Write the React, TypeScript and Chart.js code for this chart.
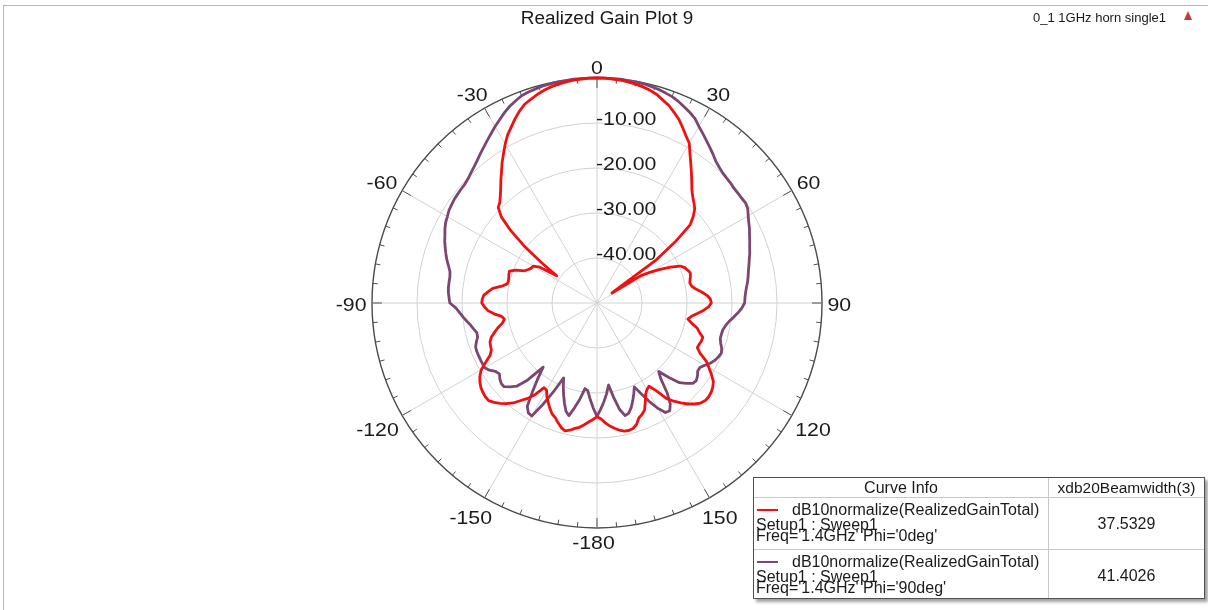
import React, { useEffect, useRef } from "react";
import { Chart, registerables } from "chart.js";

Chart.register(...registerables);

// Theta sweep in degrees (-180 .. 178, step 2)
const THETA_DEG: number[] = Array.from({ length: 180 }, (_, i) => -180 + 2 * i);

// Angle tick labels around the outer circle
const ANGLE_TICKS: number[] = [0, 30, 60, 90, 120, 150, -180, -150, -120, -90, -60, -30];
// Ring tick labels (dB)
const RING_TICKS: number[] = [-10, -20, -30, -40];
const R_MIN = -50;
const R_MAX = 0;

// Phi = 0deg, dB10normalize(RealizedGainTotal), theta -180..178
const RED_DB: number[] = [
  // -180 .. -2
  -24.7, -24.1, -23.5, -22.8, -22.1, -21.7, -21.1, -20.7, -21.2, -22.0,
  -22.9, -23.4, -24.3, -25.3, -26.3, -27.6, -27.8, -25.5, -23.8, -22.5,
  -21.0, -19.9, -19.0, -18.2, -17.6, -17.6, -17.8, -18.1, -18.6, -19.3,
  -20.3, -22.0, -23.6, -24.3, -24.5, -24.7, -25.3, -26.3, -27.3, -28.5,
  -29.1, -28.6, -27.0, -25.7, -25.0, -24.4, -24.5, -24.8, -25.7, -26.6,
  -28.5, -29.6, -29.7, -29.6, -29.4, -29.3, -30.5, -32.4, -33.0, -33.5,
  -33.6, -35.0, -39.2, -34.8, -29.5, -25.0, -21.4, -19.5, -18.9, -17.9,
  -16.7, -15.3, -13.9, -12.3, -10.8, -9.2, -7.7, -6.5, -5.2, -4.0,
  -3.0, -2.4, -1.8, -1.3, -0.9, -0.6, -0.4, -0.2, -0.1, 0,
  // 0 .. 178
  0, 0, -0.1, -0.2, -0.4, -0.6, -0.9, -1.3, -1.8, -2.6,
  -3.3, -4.3, -5.3, -6.6, -7.9, -9.0, -11.0, -12.7, -14.3, -15.8,
  -17.2, -18.2, -19.0, -19.8, -21.2, -23.0, -28.0, -34.0, -46.0, -38.5,
  -36.3, -34.1, -31.8, -29.8, -29.0, -28.6, -28.2, -28.4, -28.7, -28.9,
  -28.6, -27.8, -26.6, -25.5, -24.8, -24.6, -25.2, -26.3, -27.6, -28.8,
  -29.5, -28.5, -27.1, -26.3, -25.3, -25.3, -25.5, -25.6, -24.5, -22.5,
  -21.3, -20.0, -18.8, -18.2, -17.8, -17.6, -17.6, -18.0, -18.8, -19.8,
  -21.0, -22.3, -23.8, -26.5, -28.2, -27.8, -27.0, -25.5, -24.0, -23.3,
  -22.8, -21.6, -21.0, -20.8, -20.9, -21.3, -21.9, -22.5, -23.3, -24.2,
];

// Phi = 90deg, dB10normalize(RealizedGainTotal), theta -180..178
const PURPLE_DB: number[] = [
  // -180 .. -2
  -24.8, -26.6, -28.5, -30.4, -30.8, -28.4, -26.3, -24.2, -25.0, -26.6,
  -28.3, -30.0, -31.8, -28.3, -24.6, -21.0, -21.2, -22.3, -25.6, -28.6,
  -31.4, -27.0, -24.3, -23.2, -22.2, -22.2, -22.6, -23.2, -22.8, -21.8,
  -21.2, -21.2, -21.2, -21.2, -21.2, -21.3, -21.8, -22.4, -22.5, -22.0,
  -21.5, -20.8, -20.1, -19.4, -18.6, -17.3, -17.1, -16.9, -16.8, -16.8,
  -16.8, -16.6, -16.0, -15.3, -14.7, -14.1, -13.5, -13.0, -12.4, -11.9,
  -11.6, -11.2, -11.0, -10.8, -10.7, -10.6, -10.5, -10.2, -9.7, -9.2,
  -8.6, -7.9, -7.2, -6.4, -5.6, -4.7, -3.9, -3.0, -2.2, -1.6,
  -1.0, -0.7, -0.5, -0.3, -0.2, -0.1, -0.1, 0, 0, 0,
  // 0 .. 178
  0, 0, 0, 0, -0.1, -0.1, -0.2, -0.4, -0.6, -0.9,
  -1.2, -1.7, -2.3, -2.9, -3.6, -4.7, -5.6, -6.5, -7.3, -8.1,
  -8.9, -9.4, -9.8, -10.0, -10.1, -10.3, -10.3, -10.3, -10.2, -10.5,
  -11.2, -11.8, -12.3, -12.9, -13.4, -13.9, -14.3, -14.8, -15.2, -15.6,
  -15.9, -16.2, -16.6, -16.9, -17.1, -17.2, -17.8, -18.6, -19.5, -20.4,
  -21.0, -21.4, -21.5, -21.5, -21.1, -20.5, -20.2, -20.5, -20.9, -21.5,
  -22.3, -23.0, -23.0, -22.4, -22.0, -22.2, -23.3, -24.5, -27.0, -29.5,
  -27.9, -24.7, -22.3, -21.1, -21.3, -23.0, -25.2, -27.5, -29.6, -28.2,
  -26.8, -25.5, -24.5, -24.2, -25.8, -28.7, -31.6, -29.7, -28.0, -26.4,
];

const SERIES_LABELS = ["Phi='0deg'", "Phi='90deg'"];
const SERIES_COLORS = ["#f01010", "#7b4670"];
const BEAMWIDTHS = ["37.5329", "41.4026"];
const CURVE_EXPR = "dB10normalize(RealizedGainTotal)";
const CURVE_SETUP = "Setup1 : Sweep1";
const CURVE_FREQ = ["Freq='1.4GHz' Phi='0deg'", "Freq='1.4GHz' Phi='90deg'"];

const FONT = '"Liberation Sans", Arial, sans-serif';
const LABEL_STRETCH = 1.12;

function drawStretched(ctx: CanvasRenderingContext2D, text: string, x: number, y: number) {
  ctx.save();
  ctx.translate(x, y);
  ctx.scale(LABEL_STRETCH, 1);
  ctx.fillText(text, 0, 0);
  ctx.restore();
}

const polarDecor = {
  id: "polarDecor",
  beforeDatasetsDraw(chart: any) {
    const s = chart.scales.r;
    const cx = s.xCenter;
    const cy = s.yCenter;
    const R = s.drawingArea;
    const ctx = chart.ctx as CanvasRenderingContext2D;
    ctx.save();
    // outer circle ticks every 5 degrees
    ctx.strokeStyle = "#505050";
    ctx.lineWidth = 1;
    for (let a = 0; a < 360; a += 5) {
      const len = a % 30 === 0 ? 10 : 5;
      const rad = (a * Math.PI) / 180;
      const sn = Math.sin(rad);
      const cs = -Math.cos(rad);
      ctx.beginPath();
      ctx.moveTo(cx + R * sn, cy + R * cs);
      ctx.lineTo(cx + (R - len) * sn, cy + (R - len) * cs);
      ctx.stroke();
    }
    // ring labels
    ctx.fillStyle = "#1a1a1a";
    ctx.font = `19px ${FONT}`;
    ctx.textAlign = "left";
    ctx.textBaseline = "alphabetic";
    RING_TICKS.forEach((v) => {
      const d = s.getDistanceFromCenterForValue(v);
      drawStretched(ctx, v.toFixed(2), cx - 1, cy - d + 2);
    });
    // angle labels: unsigned part centred on the anchor, minus sign extends left
    ctx.textAlign = "left";
    ctx.textBaseline = "middle";
    ANGLE_TICKS.forEach((v) => {
      const t = String(v);
      const tu = String(Math.abs(v));
      const W = ctx.measureText(t).width * LABEL_STRETCH;
      const wu = ctx.measureText(tu).width * LABEL_STRETCH;
      const rad = (v * Math.PI) / 180;
      const sn = Math.sin(rad);
      const cs = Math.cos(rad);
      const d = R + 5.5 + (wu / 2) * Math.abs(sn) + 7 * Math.abs(cs);
      const px = cx + d * sn;
      const py = cy - d * cs + 3;
      drawStretched(ctx, t, px - wu / 2 - (W - wu), py);
    });
    ctx.restore();
  },
};

function PolarChart() {
  const ref = useRef<HTMLCanvasElement | null>(null);
  useEffect(() => {
    if (!ref.current) return;
    const chart = new Chart(ref.current, {
      type: "radar",
      data: {
        labels: THETA_DEG.map((t) => String(t)),
        datasets: [
          {
            label: SERIES_LABELS[0],
            data: RED_DB,
            borderColor: SERIES_COLORS[0],
            backgroundColor: "transparent",
            borderWidth: 2.8,
            pointRadius: 0,
            fill: false,
            tension: 0,
            borderJoinStyle: "round",
          },
          {
            label: SERIES_LABELS[1],
            data: PURPLE_DB,
            borderColor: SERIES_COLORS[1],
            backgroundColor: "transparent",
            borderWidth: 2.8,
            pointRadius: 0,
            fill: false,
            tension: 0,
            borderJoinStyle: "round",
          },
        ],
      },
      options: {
        responsive: false,
        animation: false,
        devicePixelRatio: 1,
        layout: { padding: { left: 372, right: 386, top: 78, bottom: 82 } },
        plugins: {
          legend: { display: false },
          title: { display: false },
          tooltip: { enabled: false },
        },
        scales: {
          r: {
            min: R_MIN,
            max: R_MAX,
            startAngle: 180,
            ticks: { display: false, stepSize: 10 },
            pointLabels: { display: false },
            grid: {
              circular: true,
              color: (c: any) =>
                c.tick && c.tick.value === R_MAX
                  ? "#4a4a4a"
                  : c.tick && c.tick.value === R_MIN
                  ? "rgba(0,0,0,0)"
                  : "#d2d2d2",
              lineWidth: (c: any) => (c.tick && c.tick.value === R_MAX ? 1.4 : 1),
            },
            angleLines: {
              display: true,
              color: "#d2d2d2",
              lineWidth: (c: any) => (THETA_DEG[c.index] % 30 === 0 ? 1 : 0),
            },
          },
        },
      } as any,
      plugins: [polarDecor],
    });
    return () => chart.destroy();
  }, []);
  return <canvas ref={ref} width={1208} height={610} style={{ position: "absolute", left: 0, top: 0 }} />;
}

function CurveTable() {
  const rowTop = [20, 72];
  const rowH = [52, 52];
  const lineTops = [5, 20, 31];
  return (
    <div
      style={{
        position: "absolute",
        left: 753,
        top: 477,
        width: 452,
        height: 122,
        border: "1px solid #505050",
        background: "#fff",
        boxShadow: "3px 3px 3px #a0a0a0",
        fontFamily: FONT,
        fontSize: 16,
        color: "#1a1a1a",
        boxSizing: "border-box",
      }}
    >
      <div style={{ position: "absolute", left: 294, top: 0, width: 1, height: 120, background: "#c8c8c8" }} />
      <div style={{ position: "absolute", left: 0, top: 19, width: 450, height: 1, background: "#c8c8c8" }} />
      <div style={{ position: "absolute", left: 0, top: 71, width: 450, height: 1, background: "#c8c8c8" }} />
      <div style={{ position: "absolute", left: 0, top: 0, width: 294, height: 19, lineHeight: "19px", textAlign: "center" }}>
        Curve Info
      </div>
      <div
        style={{ position: "absolute", left: 295, top: 0, width: 155, height: 19, lineHeight: "19px", textAlign: "center", fontSize: 15.5, whiteSpace: "nowrap" }}
      >
        xdb20Beamwidth(3)
      </div>
      {[0, 1].map((i) => (
        <React.Fragment key={i}>
          <div
            style={{ position: "absolute", left: 3, top: rowTop[i] + 11, width: 21, height: 2, background: SERIES_COLORS[i] }}
          />
          <div style={{ position: "absolute", left: 38, top: rowTop[i] + lineTops[0], lineHeight: "13px", whiteSpace: "nowrap" }}>
            {CURVE_EXPR}
          </div>
          <div style={{ position: "absolute", left: 2, top: rowTop[i] + lineTops[1], lineHeight: "13px", whiteSpace: "nowrap" }}>
            {CURVE_SETUP}
          </div>
          <div style={{ position: "absolute", left: 2, top: rowTop[i] + lineTops[2], lineHeight: "13px", whiteSpace: "nowrap" }}>
            {CURVE_FREQ[i]}
          </div>
          <div
            style={{ position: "absolute", left: 295, top: rowTop[i], width: 155, height: rowH[i], lineHeight: rowH[i] + "px", textAlign: "center" }}
          >
            {BEAMWIDTHS[i]}
          </div>
        </React.Fragment>
      ))}
    </div>
  );
}

export default function App() {
  return (
    <div style={{ position: "fixed", left: 0, top: 0, width: 1208, height: 610, background: "#fff", overflow: "hidden" }}>
      <div style={{ position: "absolute", left: 3, top: 5, width: 1205, height: 1, background: "#b8b8b8" }} />
      <div style={{ position: "absolute", left: 3, top: 5, width: 1, height: 605, background: "#b8b8b8" }} />
      <PolarChart />
      <div
        style={{ position: "absolute", left: 607, top: 8, transform: "translateX(-50%) scaleX(1.05)", fontFamily: FONT, fontSize: 18, lineHeight: "20px", color: "#1a1a1a", whiteSpace: "nowrap" }}
      >
        Realized Gain Plot 9
      </div>
      <div
        style={{ position: "absolute", right: 1208 - 1166, top: 10, fontFamily: FONT, fontSize: 13, lineHeight: "16px", color: "#1a1a1a", whiteSpace: "nowrap" }}
      >
        0_1 1GHz horn single1
      </div>
      <div
        style={{ position: "absolute", left: 1184, top: 11, width: 0, height: 0, borderLeft: "4px solid transparent", borderRight: "4px solid transparent", borderBottom: "9px solid #c23b3b" }}
      />
      <CurveTable />
    </div>
  );
}
